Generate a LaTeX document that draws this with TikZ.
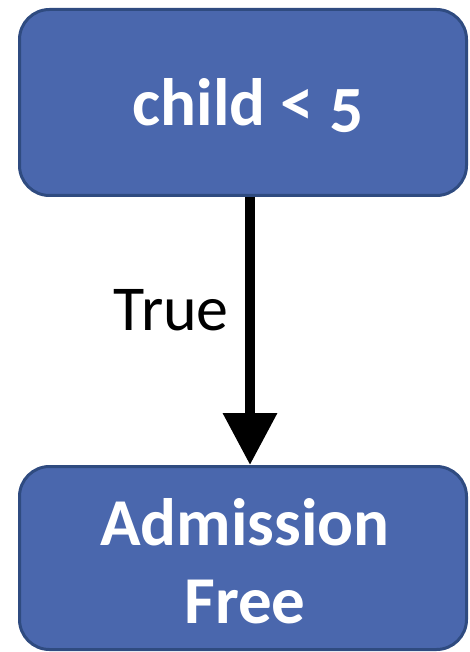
\documentclass[tikz,border=0pt]{standalone}
\usepackage{fontspec}
\setmainfont{Carlito}
\newfontfamily\boxfont[Numbers=OldStyle]{Carlito}
\usetikzlibrary{arrows.meta}
\definecolor{boxfill}{RGB}{74,103,173}
\definecolor{boxline}{RGB}{47,75,128}
\tikzset{
  flowbox/.style={draw=boxline, fill=boxfill, line width=3pt, rounded corners=30pt,
    minimum width=447pt, inner sep=0pt},
  boxtext/.style={text=white, align=center, inner sep=0pt,
    font=\boxfont\bfseries\fontsize{67}{78}\selectfont},
  flowarrow/.style={line width=10pt, -{Triangle[width=52pt,length=52pt]}},
  edgelabel/.style={font=\fontsize{64}{76}\selectfont, inner sep=0pt}
}
\begin{document}
\begin{tikzpicture}[x=1pt,y=1pt]
\useasboundingbox (0,0) rectangle (469,-652);
\node[flowbox, minimum height=186pt] (top) at (243,-102.5) {};
\node[flowbox, minimum height=183pt] (bot) at (243,-558) {};
\node[boxtext] (toptext) at ([xshift=5pt,yshift=-3pt]top.center) {child < 5};
\node[boxtext] (bottext) at ([xshift=2pt,yshift=-3pt]bot.center) {Admission\\Free};
\draw[flowarrow] ([xshift=7pt]top.south) -- ([xshift=7pt]bot.north);
\node[edgelabel, anchor=base east] (lbl) at (229,-330) {True};
\end{tikzpicture}
\end{document}
